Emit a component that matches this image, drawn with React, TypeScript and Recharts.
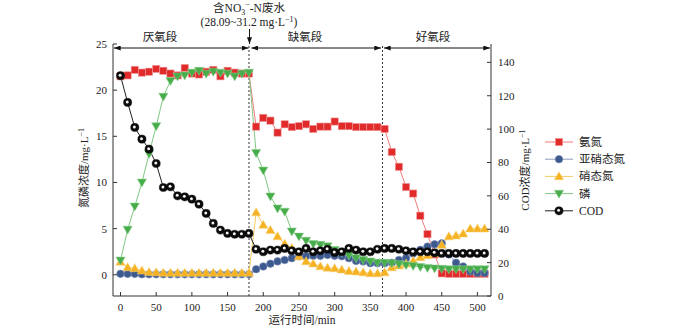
import React from "react";
import { LineChart, Line, XAxis, YAxis, ReferenceLine } from "recharts";

// sampling times, min
const times = [
  0, 10, 20, 30, 40, 50, 60, 70, 80, 90, 100, 110, 120, 130, 140, 150, 160, 170, 180,
  190, 200, 210, 220, 230, 240, 250, 260, 270, 280, 290, 300, 310, 320, 330, 340, 350, 360,
  370, 380, 390, 400, 410, 420, 430, 440, 450, 460, 470, 480, 490, 500, 510,
];

// 氨氮, mg/L (left axis)
const ammonia = [
  21.5, 21.6, 22.2, 21.9, 22.0, 22.3, 22.1, 21.8, 21.6, 22.4, 21.8, 21.7, 22.0, 22.2, 21.5, 22.1, 21.9, 21.8, 21.8,
  16.05, 17.0, 16.7, 15.4, 16.3, 16.0, 16.1, 16.3, 15.8, 16.05, 16.05, 16.6, 16.1, 16.1, 16.0, 16.0, 16.0, 16.0,
  15.8, 13.3, 11.7, 9.5, 8.8, 6.4, 4.4, 2.2, 0.15, 0.1, 0.1, 0.1, 0.1, 0.1, 0.1,
];

// 亚硝态氮
const nitrite = [
  0.1, 0.1, 0.1, 0.05, 0.05, 0.05, 0.05, 0.05, 0.05, 0.05, 0.05, 0.05, 0.05, 0.05, 0.05, 0.05, 0.05, 0.05, 0.05,
  0.6, 0.9, 1.2, 1.45, 1.6, 1.8, 2.0, 2.0, 2.05, 2.05, 2.15, 2.05, 2.0, 1.8, 1.5, 1.45, 1.25, 1.25,
  1.25, 1.3, 1.6, 1.8, 2.3, 2.7, 3.05, 3.3, 3.4, 2.2, 1.3, 0.9, 0.35, 0.2, 0.2,
];

// 硝态氮
const nitrate = [
  1.4, 0.8, 0.7, 0.45, 0.3, 0.25, 0.2, 0.2, 0.2, 0.2, 0.2, 0.2, 0.2, 0.2, 0.2, 0.2, 0.2, 0.2, 0.2,
  6.75, 5.4, 4.85, 4.15, 3.35, 2.9, 2.0, 1.45, 1.2, 0.9, 0.75, 0.7, 0.55, 0.4, 0.35, 0.25, 0.15, 0.15,
  0.25, 0.8, 1.0, 1.2, 1.5, 1.9, 2.1, 2.3, 3.25, 4.15, 4.25, 4.45, 5.0, 5.0, 5.0,
];

// 磷
const phosphorus = [
  1.55, 4.9, 7.4, 10.0, 13.1, 16.1, 19.3, 21.0, 21.5, 21.6, 21.9, 22.1, 21.8, 22.0, 21.9, 21.8, 21.5, 21.8, 21.9,
  13.2, 11.3, 8.5, 7.2, 6.85, 4.7, 4.15, 3.7, 3.35, 3.25, 3.1, 2.7, 2.4, 2.1, 1.8, 1.6, 1.45, 1.3,
  1.3, 1.25, 1.15, 1.05, 0.95, 0.85, 0.75, 0.7, 0.65, 0.6, 0.6, 0.6, 0.6, 0.6, 0.6,
];

// COD, mg/L (right axis)
const cod = [
  132, 116, 101, 94, 88, 79.4, 65, 65.4, 60, 59.4, 58, 55, 49.5, 43.5, 39.5, 37.5, 37, 37, 37.5,
  28, 26.5, 27.5, 27.5, 28.5, 27.1, 26.5, 28.5, 26.5, 27.1, 28, 26.1, 26.5, 28.5, 27.5, 26.5, 26.5, 28,
  28.5, 28.5, 28, 27.1, 26.5, 26.5, 26.5, 25.9, 25.5, 25.5, 25.5, 25.5, 25.5, 25.5, 25.5,
];

const xTicks = [0, 50, 100, 150, 200, 250, 300, 350, 400, 450, 500];
const leftTicks = [0, 5, 10, 15, 20, 25];
const rightTicks = [0, 20, 40, 60, 80, 100, 120, 140];
const phaseBounds = [180, 367];

const rows = times.map((t, i) => ({
  t,
  nh: ammonia[i],
  no2: nitrite[i],
  no3: nitrate[i],
  p: phosphorus[i],
  cod: cod[i],
}));

const FONT = "'Liberation Serif', 'Times New Roman', 'Noto Sans CJK SC', serif";
const AXIS = "#333";
const TXT = "#222";
const TM = 5;

const C = {
  red: "#e12b2b", redLine: "#f07b7b",
  blue: "#3d5a8f", blueLine: "#8e9dc2",
  yellow: "#f5b324", yellowLine: "#f7c960",
  green: "#47ad4b", greenLine: "#80c982",
  black: "#111", blackLine: "#222",
};

const Square = ({ cx, cy }: any) => (
  <rect x={cx - 3.6} y={cy - 3.6} width={7.2} height={7.2} fill={C.red} stroke="#f19a9a" strokeWidth={0.6} />
);
const Dot = ({ cx, cy }: any) => (
  <circle cx={cx} cy={cy} r={3.8} fill={C.blue} stroke="#7d8fb8" strokeWidth={0.6} />
);
const Up = ({ cx, cy }: any) => (
  <path d={`M${cx},${cy - 4.6} L${cx + 4.6},${cy + 3.4} L${cx - 4.6},${cy + 3.4} Z`} fill={C.yellow} stroke="#f8d27a" strokeWidth={0.5} />
);
const Down = ({ cx, cy }: any) => (
  <path d={`M${cx},${cy + 4.6} L${cx + 4.6},${cy - 3.4} L${cx - 4.6},${cy - 3.4} Z`} fill={C.green} stroke="#8fd191" strokeWidth={0.5} />
);
// black ball with a small white highlight
const Ball = ({ cx, cy }: any) => (
  <g>
    <circle cx={cx} cy={cy} r={4.1} fill="#0b0b0b" stroke="#000" strokeWidth={0.4} />
    <circle cx={cx - 0.4} cy={cy - 0.5} r={1.5} fill="#e8e8e8" />
    <circle cx={cx - 0.5} cy={cy - 0.6} r={0.8} fill="#fff" />
  </g>
);

const LeftTick = ({ x, y, payload }: any) => (
  <g>
    <line x1={x + TM} x2={x + TM + 4} y1={y} y2={y} stroke={AXIS} />
    <text x={x - 1} y={y} dy={4} textAnchor="end" fontSize={11} fontFamily={FONT} fill={TXT}>{payload.value}</text>
  </g>
);
const RightTick = ({ x, y, payload }: any) => (
  <g>
    <line x1={x - TM} x2={x - TM - 4} y1={y} y2={y} stroke={AXIS} />
    <text x={x + 2} y={y} dy={4} textAnchor="start" fontSize={11} fontFamily={FONT} fill={TXT}>{payload.value}</text>
  </g>
);
const BottomTick = ({ x, y, payload }: any) => (
  <g>
    <line x1={x} x2={x} y1={y - TM} y2={y - TM - 4} stroke={AXIS} />
    <text x={x} y={y + 10} textAnchor="middle" fontSize={11} fontFamily={FONT} fill={TXT}>{payload.value}</text>
  </g>
);

const legendItems = [
  { name: "氨氮", line: C.redLine, M: Square },
  { name: "亚硝态氮", line: C.blueLine, M: Dot },
  { name: "硝态氮", line: C.yellowLine, M: Up },
  { name: "磷", line: C.greenLine, M: Down },
  { name: "COD", line: C.blackLine, M: Ball },
];

function Overlay() {
  const unit = (x: number, y: number, anchor: string, pre: string) => (
    <text x={x} y={y} textAnchor={anchor} fontSize={11} fontFamily={FONT} fill={TXT}>
      {pre}
      <tspan dy={-4} fontSize={8}>−1</tspan>
    </text>
  );
  return (
    <svg width={700} height={328} style={{ position: "absolute", left: 0, top: 0, pointerEvents: "none" }}>
      <defs>
        <marker id="ah" viewBox="0 0 8 6" refX="8" refY="3" markerWidth="7" markerHeight="5" orient="auto-start-reverse" markerUnits="userSpaceOnUse">
          <path d="M0,0 L8,3 L0,6 Z" fill="#111" />
        </marker>
      </defs>

      {/* feed note */}
      <text x={249} y={12} textAnchor="middle" fontSize={11.5} fontFamily={FONT} fill={TXT}>
        含NO<tspan dy={3} fontSize={8}>3</tspan><tspan dy={-8} fontSize={8}>−</tspan><tspan dy={5}>-N废水</tspan>
      </text>
      <text x={249} y={26} textAnchor="middle" fontSize={11.5} fontFamily={FONT} fill={TXT}>
        (28.09~31.2 mg·L<tspan dy={-4} fontSize={8}>−1</tspan><tspan dy={4}>)</tspan>
      </text>
      <line x1={249.5} x2={249.5} y1={29} y2={44} stroke="#111" strokeWidth={1} markerEnd="url(#ah)" />

      {/* phases */}
      <text x={160} y={41} textAnchor="middle" fontSize={11.5} fontFamily={FONT} fill={TXT}>厌氧段</text>
      <text x={305} y={41} textAnchor="middle" fontSize={11.5} fontFamily={FONT} fill={TXT}>缺氧段</text>
      <text x={433} y={41} textAnchor="middle" fontSize={11.5} fontFamily={FONT} fill={TXT}>好氧段</text>
      {[[114, 248.5], [251.5, 381], [384, 490]].map(([a, b], i) => (
        <line key={i} x1={a} x2={b} y1={48} y2={48} stroke="#111" strokeWidth={1} markerStart="url(#ah)" markerEnd="url(#ah)" />
      ))}

      {/* axis titles */}
      <g transform="translate(88,168) rotate(-90)">{unit(0, 0, "middle", "氮磷浓度/mg·L")}</g>
      <g transform="translate(529,170) rotate(-90)">{unit(0, 0, "middle", "COD浓度/mg·L")}</g>
      <text x={302} y={324} textAnchor="middle" fontSize={11.5} fontFamily={FONT} fill={TXT}>运行时间/min</text>

      {/* legend */}
      {legendItems.map((it, i) => {
        const y = 142 + i * 17.2;
        const M = it.M;
        return (
          <g key={it.name}>
            <line x1={545} x2={573} y1={y} y2={y} stroke={it.line} strokeWidth={1} />
            <M cx={559} cy={y} />
            <text x={579} y={y + 4} fontSize={11.5} fontFamily={FONT} fill={TXT}>{it.name}</text>
          </g>
        );
      })}
    </svg>
  );
}

const series = [
  { key: "nh", axis: "left", line: C.redLine, M: Square },
  { key: "no2", axis: "left", line: C.blueLine, M: Dot },
  { key: "no3", axis: "left", line: C.yellowLine, M: Up },
  { key: "p", axis: "left", line: C.greenLine, M: Down },
  { key: "cod", axis: "right", line: C.blackLine, M: Ball },
];

export default function App() {
  return (
    <div style={{ position: "absolute", left: 0, top: 0, width: 700, height: 328, background: "#fff" }}>
      <LineChart width={700} height={328} data={rows} margin={{ top: 44, right: 159, bottom: 2, left: 63 }}>
        <XAxis
          dataKey="t"
          type="number"
          domain={[-10.5, 519]}
          ticks={xTicks}
          allowDataOverflow
          height={30}
          tickSize={0}
          tickMargin={TM}
          tick={<BottomTick />}
          axisLine={{ stroke: AXIS }}
          interval={0}
        />
        <YAxis
          yAxisId="left"
          domain={[-2.3, 25]}
          ticks={leftTicks}
          allowDataOverflow
          width={50}
          tickSize={0}
          tickMargin={TM}
          tick={<LeftTick />}
          axisLine={{ stroke: AXIS }}
          interval={0}
        />
        <YAxis
          yAxisId="right"
          orientation="right"
          domain={[0, 151]}
          ticks={rightTicks}
          allowDataOverflow
          width={50}
          tickSize={0}
          tickMargin={TM}
          tick={<RightTick />}
          axisLine={{ stroke: AXIS }}
          interval={0}
        />
        {phaseBounds.map((b) => (
          <ReferenceLine key={b} x={b} yAxisId="left" stroke="#333" strokeDasharray="2 2" strokeWidth={1} />
        ))}
        {series.map((s) => {
          const M = s.M;
          return (
            <Line
              key={s.key}
              yAxisId={s.axis}
              dataKey={s.key}
              stroke={s.line}
              strokeWidth={1}
              isAnimationActive={false}
              activeDot={false}
              dot={(p: any) => <M key={`${s.key}-${p.index}`} cx={p.cx} cy={p.cy} />}
            />
          );
        })}
      </LineChart>
      <Overlay />
    </div>
  );
}
